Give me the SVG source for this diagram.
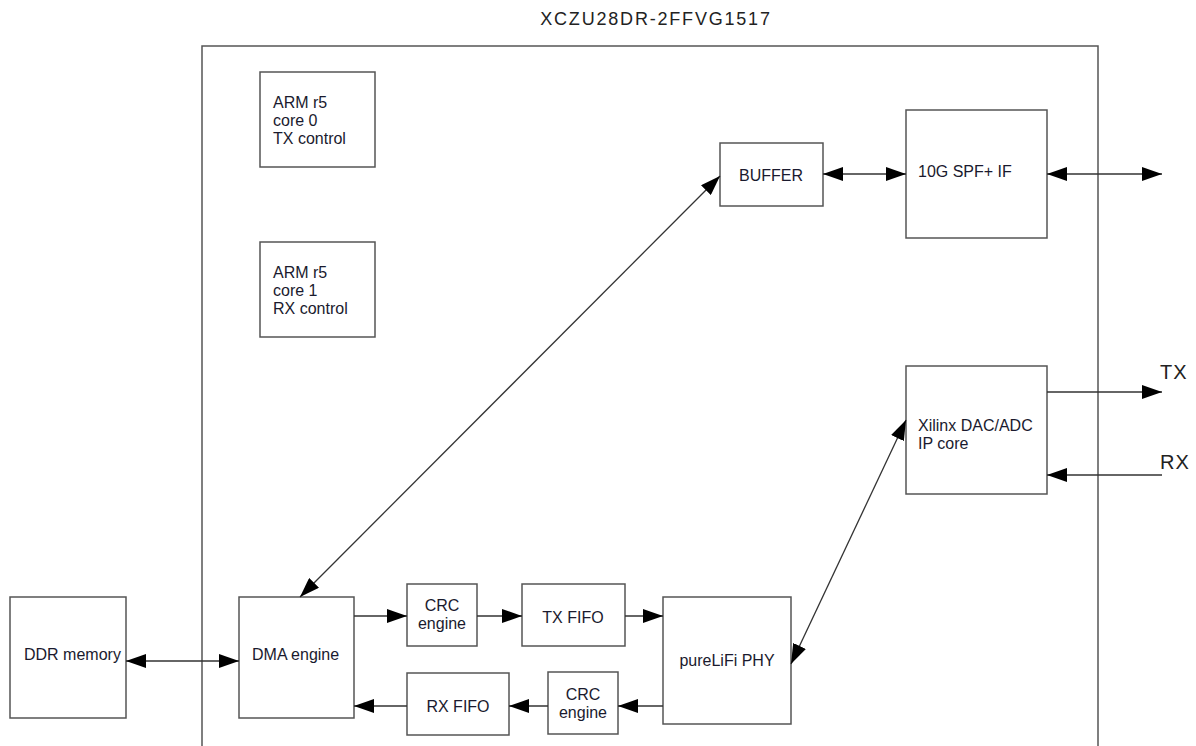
<svg xmlns="http://www.w3.org/2000/svg" width="1196" height="746" viewBox="0 0 1196 746">
<style>
.box{fill:#fff;stroke:#555;stroke-width:1.5}
.t{font-family:"Liberation Sans",Arial,sans-serif;font-size:16px;fill:#1a1a2e}
.tc{font-family:"Liberation Sans",Arial,sans-serif;font-size:16px;fill:#1a1a2e;text-anchor:middle}
.c{stroke:#333;stroke-width:1.3;fill:none}
</style>
<defs>
<marker id="ah" viewBox="0 0 20 14" refX="20" refY="7" markerWidth="20" markerHeight="14" markerUnits="userSpaceOnUse" orient="auto-start-reverse">
<path d="M0,0 L20,7 L0,14 Z" fill="#000"/>
</marker>
</defs>
<rect width="1196" height="746" fill="#fff"/>
<g id="chip">
<rect x="202" y="46" width="896" height="720" fill="none" stroke="#555" stroke-width="1.5"/>
<text x="656" y="25" text-anchor="middle" font-family="Liberation Sans,Arial,sans-serif" font-size="18" letter-spacing="1.8" fill="#222">XCZU28DR-2FFVG1517</text>
</g>
<g id="arm0"><rect class="box" x="260" y="72" width="115" height="95"/>
<text class="t" x="273" y="108">ARM r5</text><text class="t" x="273" y="126">core 0</text><text class="t" x="273" y="144">TX control</text></g>
<g id="arm1"><rect class="box" x="260" y="242" width="115" height="95"/>
<text class="t" x="273" y="278">ARM r5</text><text class="t" x="273" y="296">core 1</text><text class="t" x="273" y="314">RX control</text></g>
<g id="buffer"><rect class="box" x="720" y="143" width="103" height="63"/>
<text class="tc" x="771" y="181">BUFFER</text></g>
<g id="sfp"><rect class="box" x="906" y="110" width="141" height="128"/>
<text class="t" x="918" y="177">10G SPF+ IF</text></g>
<g id="dac"><rect class="box" x="906" y="366" width="141" height="128"/>
<text class="t" x="918" y="431">Xilinx DAC/ADC</text><text class="t" x="918" y="449">IP core</text></g>
<g id="ddr"><rect class="box" x="10" y="597" width="116" height="121"/>
<text class="t" x="24" y="660">DDR memory</text></g>
<g id="dma"><rect class="box" x="239" y="597" width="115" height="121"/>
<text class="t" x="252" y="660">DMA engine</text></g>
<g id="crc_tx"><rect class="box" x="407" y="584" width="70" height="62"/>
<text class="tc" x="442" y="611">CRC</text><text class="tc" x="442" y="629">engine</text></g>
<g id="txfifo"><rect class="box" x="522" y="584" width="103" height="62"/>
<text class="tc" x="573" y="623">TX FIFO</text></g>
<g id="phy"><rect class="box" x="663" y="597" width="128" height="127"/>
<text class="tc" x="727" y="666">pureLiFi PHY</text></g>
<g id="rxfifo"><rect class="box" x="407" y="673" width="102" height="62"/>
<text class="tc" x="458" y="712">RX FIFO</text></g>
<g id="crc_rx"><rect class="box" x="548" y="672" width="70" height="62"/>
<text class="tc" x="583" y="700">CRC</text><text class="tc" x="583" y="718">engine</text></g>
<g id="labels">
<text x="1160" y="379" font-family="Liberation Sans,Arial,sans-serif" font-size="20" letter-spacing="1" fill="#222">TX</text>
<text x="1160" y="469" font-family="Liberation Sans,Arial,sans-serif" font-size="20" letter-spacing="1" fill="#222">RX</text>
</g>
<g id="connectors">
<line class="c" x1="823" y1="174" x2="906" y2="174" marker-start="url(#ah)" marker-end="url(#ah)"/>
<line class="c" x1="1047" y1="174" x2="1162" y2="174" marker-start="url(#ah)" marker-end="url(#ah)"/>
<line class="c" x1="1047" y1="392" x2="1162" y2="392" marker-end="url(#ah)"/>
<line class="c" x1="1162" y1="475" x2="1047" y2="475" marker-end="url(#ah)"/>
<line class="c" x1="126" y1="661" x2="239" y2="661" marker-start="url(#ah)" marker-end="url(#ah)"/>
<line class="c" x1="300" y1="597" x2="720" y2="176" marker-start="url(#ah)" marker-end="url(#ah)"/>
<line class="c" x1="791" y1="664" x2="906" y2="420" marker-start="url(#ah)" marker-end="url(#ah)"/>
<line class="c" x1="354" y1="616" x2="407" y2="616" marker-end="url(#ah)"/>
<line class="c" x1="477" y1="616" x2="522" y2="616" marker-end="url(#ah)"/>
<line class="c" x1="625" y1="616" x2="663" y2="616" marker-end="url(#ah)"/>
<line class="c" x1="663" y1="706" x2="618" y2="706" marker-end="url(#ah)"/>
<line class="c" x1="548" y1="706" x2="509" y2="706" marker-end="url(#ah)"/>
<line class="c" x1="407" y1="706" x2="354" y2="706" marker-end="url(#ah)"/>
</g>
</svg>
